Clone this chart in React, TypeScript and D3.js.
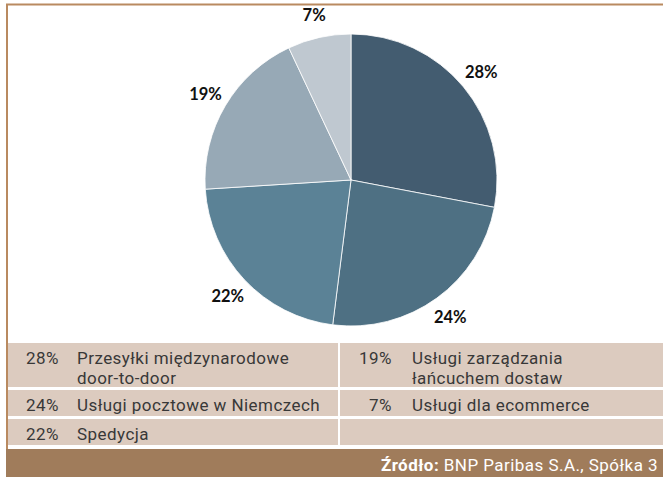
import React from "react";
import * as d3 from "d3";

const categories = [
  "Przesyłki międzynarodowe door-to-door",
  "Usługi pocztowe w Niemczech",
  "Spedycja",
  "Usługi zarządzania łańcuchem dostaw",
  "Usługi dla ecommerce",
];
const legendLines = [
  ["Przesyłki międzynarodowe", "door-to-door"],
  ["Usługi pocztowe w Niemczech"],
  ["Spedycja"],
  ["Usługi zarządzania", "łańcuchem dostaw"],
  ["Usługi dla ecommerce"],
];
const values = [28, 24, 22, 19, 7];
const colors = ["#435c70", "#4e7083", "#5b8296", "#97a9b6", "#bfc8d0"];
const sourceLabel = "Źródło:";
const sourceText = "BNP Paribas S.A., Spółka 3";

const W = 663;
const H = 477;

export default function App() {
  const cx = 351;
  const cy = 180;
  const r = 146;
  const pie = d3.pie<number>().sort(null).value((d) => d);
  const arcs = pie(values);
  const arc = d3.arc<d3.PieArcDatum<number>>().innerRadius(0).outerRadius(r);
  const labelArc = d3
    .arc<d3.PieArcDatum<number>>()
    .innerRadius(169)
    .outerRadius(169);

  const tableFont = "Roboto, 'Open Sans', sans-serif";
  const rowBg = "#dccbbf";
  const txt = "#383838";
  const ls = 0.45;

  const rows = [
    { y: 343, h: 44, items: [0, 3] },
    { y: 390, h: 26, items: [1, 4] },
    { y: 419, h: 26, items: [2, -1] },
  ];
  const cols = [
    { x: 8, w: 330, pctX: 59, labX: 77 },
    { x: 340, w: 323, pctX: 392, labX: 412 },
  ];
  const fmt = (v: number) => `${v}%`;

  return (
    <div style={{ position: "fixed", left: 0, top: 0 }}>
      <svg width={W} height={H} style={{ display: "block" }}>
        <rect x={0} y={0} width={W} height={H} fill="#ffffff" />
        <line x1={6} x2={W} y1={4.5} y2={4.5} stroke="#b98a60" strokeWidth={2} />
        <line x1={7} x2={7} y1={4} y2={449} stroke="#b98a60" strokeWidth={2} />

        <g transform={`translate(${cx},${cy})`}>
          {arcs.map((a, i) => (
            <path
              key={i}
              d={arc(a) || ""}
              fill={colors[i]}
              stroke="#ffffff"
              strokeWidth={0.8}
            />
          ))}
          {arcs.map((a, i) => {
            const [lx, ly] = labelArc.centroid(a);
            return (
              <text
                key={"l" + i}
                x={lx}
                y={ly}
                textAnchor="middle"
                dominantBaseline="central"
                fontFamily="Lato, 'Open Sans', sans-serif"
                fontWeight={700}
                fontSize={16.5}
                fill="#111111"
              >
                {fmt(values[i])}
              </text>
            );
          })}
        </g>

        {rows.map((row, ri) => (
          <g key={"r" + ri}>
            {cols.map((c, ci) => {
              const idx = row.items[ci];
              return (
                <g key={"c" + ci}>
                  <rect x={c.x} y={row.y} width={c.w} height={row.h} fill={rowBg} />
                  {idx >= 0 && (
                    <>
                      <text
                        x={c.pctX}
                        y={row.y + 21}
                        textAnchor="end"
                        fontFamily={tableFont}
                        fontSize={17}
                        letterSpacing={ls}
                        fill={txt}
                      >
                        {fmt(values[idx])}
                      </text>
                      {legendLines[idx].map((ln, li) => (
                        <text
                          key={li}
                          x={c.labX}
                          y={row.y + 21 + li * 20}
                          fontFamily={tableFont}
                          fontSize={17}
                          letterSpacing={ls}
                          fill={txt}
                        >
                          <title>{categories[idx]}</title>
                          {ln}
                        </text>
                      ))}
                    </>
                  )}
                </g>
              );
            })}
          </g>
        ))}

        <rect x={6} y={449} width={W - 6} height={H - 449} fill="#a07c5b" />
        <text
          x={658}
          y={471}
          textAnchor="end"
          fontFamily={tableFont}
          fontSize={17}
          letterSpacing={ls}
          fill="#ffffff"
        >
          <tspan fontWeight={700}>{sourceLabel}</tspan>
          <tspan> {sourceText}</tspan>
        </text>
      </svg>
    </div>
  );
}
